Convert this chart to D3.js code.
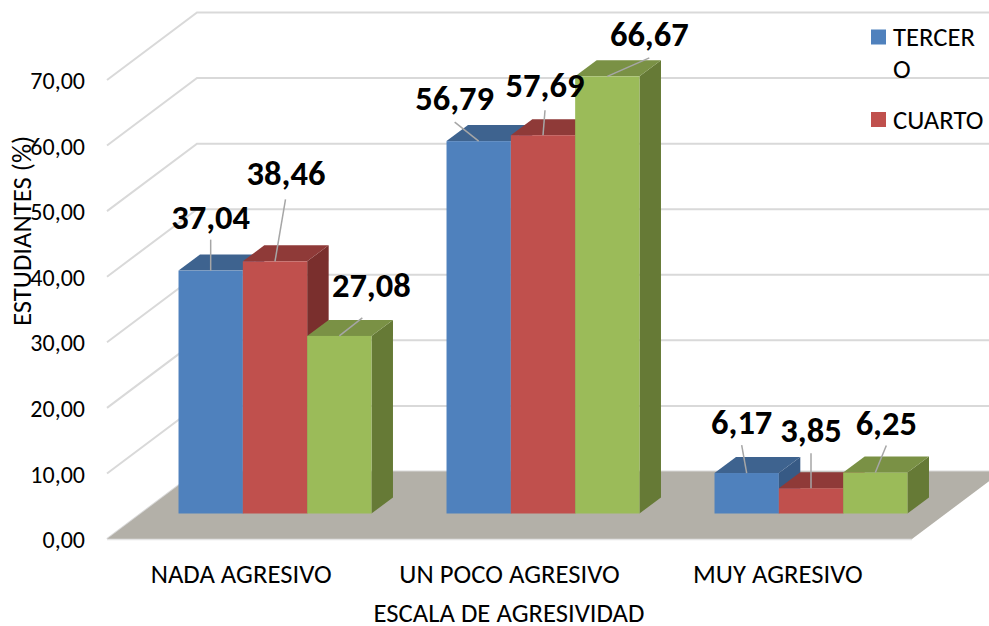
<!DOCTYPE html>
<html><head><meta charset="utf-8">
<script src="https://cdn.jsdelivr.net/npm/d3@7/dist/d3.min.js"></script>
<style>html,body{margin:0;padding:0;background:#fff}svg{display:block}</style>
</head><body><svg id="c" width="989" height="626"></svg>
<script>
// data
const categories = ["NADA AGRESIVO", "UN POCO AGRESIVO", "MUY AGRESIVO"];
const seriesNames = ["TERCERO", "CUARTO", "QUINTO"];
const tercero = [37.04, 56.79, 6.17];
const cuarto = [38.46, 57.69, 3.85];
const quinto = [27.08, 66.67, 6.25];
const yTicks = [0, 10, 20, 30, 40, 50, 60, 70];
const legendLines = [["TERCER", "O"], ["CUARTO"]];
const xTitle = "ESCALA DE AGRESIVIDAD";
const yTitle = "ESTUDIANTES (%)";

// styling
const frontCol = ["#4f81bd", "#c0504d", "#9bbb59"];
const topCol = ["#3e638f", "#8f3a38", "#7a9145"];
const sideCol = ["#375a85", "#7a2f2d", "#667a36"];
// label placement relative to each bar's top centre: [labelDx, labelDy, leaderDx, leaderDy]
const labelPlacement = [
  [[0,-54,0,-31],[11,-88,10.5,-62],[32,-51,23,-18]],
  [[-24,-43,-24,-19],[2,-50,2,-25],[42,-42,42,-18.5]],
  [[-5,-51,-5,-28],[0,-58,0,-35],[11,-50,11,-27]]
];
const font = "Carlito, Calibri, Lato, sans-serif";
const tickSize = 24, textSize = 26.7, valueSize = 34.5;

const svg = d3.select("#c");
const series = [tercero, cuarto, quinto];
const floorX0 = 107, floorX1 = 912, W = 989;
const wall = {dx: 90, dy: -67.5};      // floor depth
const inset = {dx: 34, dy: -25.5};     // bar front relative to floor front
const depth = {dx: 21.5, dy: -16};     // bar depth

const y = d3.scaleLinear().domain([0, 70]).range([539, 80]);
const xAxisScale = d3.scaleBand().domain(categories).range([floorX0, floorX1]);
const x0 = d3.scaleBand().domain(categories)
  .range([floorX0 + inset.dx, floorX1 + inset.dx - 1]).paddingInner(0.28).paddingOuter(0.14);
const x1 = d3.scaleBand().domain(d3.range(3)).range([0, x0.bandwidth()]);
const pts = a => a.map(p => p.join(",")).join(" ");

// gridlines
const grid = svg.append("g").attr("stroke", "#d9d9d9").attr("stroke-width", 2).attr("fill", "none");
yTicks.forEach(t => {
  grid.append("polyline").attr("points", pts([
    [floorX0, y(t)], [floorX0 + wall.dx, y(t) + wall.dy], [W, y(t) + wall.dy]
  ]));
});

// floor
svg.append("polygon").attr("fill", "#b3b0a8").attr("points", pts([
  [floorX0, y(0)], [floorX1, y(0)], [floorX1 + wall.dx, y(0) + wall.dy], [floorX0 + wall.dx, y(0) + wall.dy]
]));
svg.append("line").attr("x1", floorX0).attr("x2", floorX1).attr("y1", y(0) + 0.5).attr("y2", y(0) + 0.5)
  .attr("stroke", "#e4e4e4").attr("stroke-width", 1.5);

// bars
const base = y(0) + inset.dy;
categories.forEach((c, i) => {
  series.forEach((s, k) => {
    const g = svg.append("g");
    const bx = x0(c) + x1(k), w = x1.bandwidth();
    const top = y(s[i]) + inset.dy;
    g.append("polygon").attr("fill", sideCol[k]).attr("points", pts([
      [bx + w, top], [bx + w + depth.dx, top + depth.dy], [bx + w + depth.dx, base + depth.dy], [bx + w, base]
    ]));
    g.append("polygon").attr("fill", topCol[k]).attr("points", pts([
      [bx, top], [bx + w, top], [bx + w + depth.dx, top + depth.dy], [bx + depth.dx, top + depth.dy]
    ]));
    g.append("rect").attr("x", bx).attr("y", top).attr("width", w).attr("height", base - top).attr("fill", frontCol[k]);
  });
});

// value labels and leaders
categories.forEach((c, i) => {
  series.forEach((s, k) => {
    const cx = x0(c) + x1(k) + x1.bandwidth() / 2;
    const top = y(s[i]) + inset.dy;
    const [lx, ly, ax, ay] = labelPlacement[i][k];
    svg.append("line").attr("x1", cx + ax).attr("y1", top + ay).attr("x2", cx).attr("y2", top)
      .attr("stroke", "#a6a6a6").attr("stroke-width", 1.5);
    svg.append("text").attr("x", cx + lx).attr("y", top + ly).attr("text-anchor", "middle")
      .attr("dominant-baseline", "central").attr("font-family", font).attr("font-weight", 700)
      .attr("font-size", valueSize).attr("fill", "#000").text(s[i].toFixed(2).replace(".", ","));
  });
});

// axes
const fmt = d => d.toFixed(2).replace(".", ",");
const ya = svg.append("g").attr("transform", `translate(${floorX0 - 22},1)`)
  .call(d3.axisLeft(y).tickValues(yTicks).tickFormat(fmt).tickSize(0).tickPadding(0));
ya.select(".domain").remove();
ya.selectAll("text").attr("font-family", font).attr("font-size", tickSize).attr("fill", "#000");
const xa = svg.append("g").attr("transform", "translate(0,574)")
  .call(d3.axisBottom(xAxisScale).tickSize(0).tickPadding(0));
xa.select(".domain").remove();
xa.selectAll("text").attr("font-family", font).attr("font-size", textSize).attr("fill", "#000")
  .attr("dy", null).attr("y", 0).attr("dominant-baseline", "central");

// titles
svg.append("text").attr("x", 509).attr("y", 613).attr("text-anchor", "middle").attr("dominant-baseline", "central")
  .attr("font-family", font).attr("font-size", textSize).attr("fill", "#000").text(xTitle);
svg.append("text").attr("transform", "translate(22,231) rotate(-90)").attr("text-anchor", "middle")
  .attr("dominant-baseline", "central").attr("font-family", font).attr("font-size", textSize).attr("fill", "#000").text(yTitle);

// legend
const legendY = [37, 119.5];
legendLines.forEach((lines, k) => {
  svg.append("rect").attr("x", 871).attr("y", legendY[k] - 7.5).attr("width", 15).attr("height", 15).attr("fill", frontCol[k]);
  lines.forEach((t, j) => {
    svg.append("text").attr("x", 893).attr("y", legendY[k] + j * 32).attr("dominant-baseline", "central")
      .attr("font-family", font).attr("font-size", textSize).attr("fill", "#000").text(t);
  });
});
</script></body></html>
